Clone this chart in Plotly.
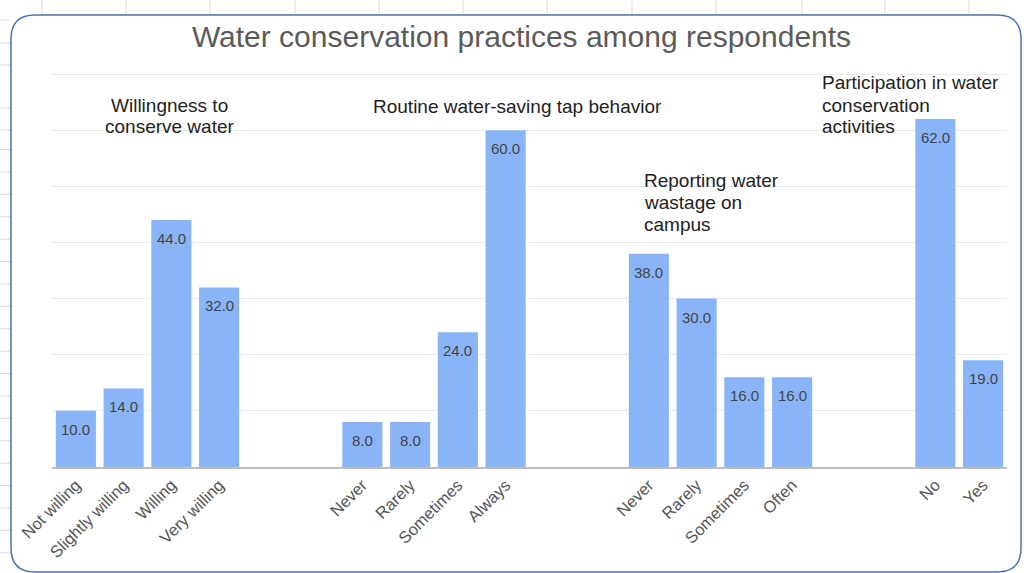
import plotly.graph_objects as go

# ---- data ----
group_titles = [
    ["Willingness to", "conserve water"],
    ["Routine water-saving tap behavior"],
    ["Reporting water", "wastage on", "campus"],
    ["Participation in water", "conservation", "activities"],
]
willing_cats = ["Not willing", "Slightly willing", "Willing", "Very willing"]
willing_vals = [10, 14, 44, 32]
tap_cats = ["Never", "Rarely", "Sometimes", "Always"]
tap_vals = [8, 8, 24, 60]
report_cats = ["Never", "Rarely", "Sometimes", "Often"]
report_vals = [38, 30, 16, 16]
partic_cats = ["No", "Yes"]
partic_vals = [62, 19]

groups = [(willing_cats, willing_vals), (tap_cats, tap_vals),
          (report_cats, report_vals), (partic_cats, partic_vals)]

# ---- layout geometry (pixels) ----
W, H = 1024, 573
YMAX = 70.2
ML, MR, MT, MB = 52, 17, 73, 106
PW, PH = W - ML - MR, H - MT - MB


def px(x):
    return (x - ML) / PW


def py(y):
    return (H - MB - y) / PH


GAP = 2
xs, ticktext, vals = [], [], []
pos = 0
for cats, v in groups:
    for c, val in zip(cats, v):
        xs.append(pos)
        ticktext.append(c)
        vals.append(val)
        pos += 1
    pos += GAP
n_slots = pos - GAP

FONT = "Liberation Sans, Arial"

fig = go.Figure()
fig.add_trace(go.Bar(
    x=xs, y=vals, width=0.84,
    marker=dict(color="#8ab4f8", line=dict(width=0)),
    hoverinfo="skip", showlegend=False,
))

annotations = []
for x, v in zip(xs, vals):
    annotations.append(dict(
        x=x, y=v, xref="x", yref="y", text=f"{v:.1f}", showarrow=False,
        yanchor="top", yshift=-8,
        font=dict(family=FONT, size=15, color="#444444"),
    ))

# group titles: (anchor x px, first line centre y px, xanchor)
title_font = dict(family=FONT, size=19, color="#222222")
title_pos = [(169.5, 105, "center"), (517, 106, "center"),
             (642, 180, "left"), (820, 83, "left")]
LINE = 22
for lines, (ax, ay, xa) in zip(group_titles, title_pos):
    for i, line in enumerate(lines):
        annotations.append(dict(
            x=px(ax), y=py(ay + i * LINE), xref="paper", yref="paper", text=line,
            showarrow=False, xanchor=xa, yanchor="middle", align=xa,
            font=title_font))

# ---- spreadsheet background lines + rounded chart border ----
shapes = []
grid_col = "#d9d9d9"
for gx in [42, 126, 210, 295, 379, 463, 547, 632, 716, 802, 885, 969]:
    shapes.append(dict(type="line", xref="paper", yref="paper",
                       x0=px(gx), x1=px(gx), y0=py(0), y1=py(15),
                       line=dict(color=grid_col, width=1), layer="below"))
row_ys = [20, 43, 65, 108, 130] + [396 + 22.4 * j for j in range(-11, 8)]
for gy in row_ys:
    shapes.append(dict(type="line", xref="paper", yref="paper",
                       x0=px(0), x1=px(10), y0=py(gy), y1=py(gy),
                       line=dict(color=grid_col, width=1), layer="below"))

L, T, R, B, r = 11, 15, 1021, 572, 24
pts = lambda x, y: f"{px(x):.5f},{py(y):.5f}"
path = (f"M {pts(L + r, T)} L {pts(R - r, T)} Q {pts(R, T)} {pts(R, T + r)} "
        f"L {pts(R, B - r)} Q {pts(R, B)} {pts(R - r, B)} "
        f"L {pts(L + r, B)} Q {pts(L, B)} {pts(L, B - r)} "
        f"L {pts(L, T + r)} Q {pts(L, T)} {pts(L + r, T)} Z")
shapes.append(dict(type="path", xref="paper", yref="paper", path=path,
                   line=dict(color="#4a72b8", width=1.5), layer="above"))

fig.update_layout(
    width=W, height=H,
    margin=dict(l=ML, r=MR, t=MT, b=MB, pad=0),
    paper_bgcolor="white", plot_bgcolor="white",
    title=dict(text="Water conservation practices among respondents",
               x=521.5 / W, xref="container", xanchor="center",
               y=1 - 36 / H, yanchor="middle",
               font=dict(family=FONT, size=30, color="#5b5b5b")),
    xaxis=dict(range=[-0.5, n_slots - 0.5], tickmode="array", tickvals=xs,
               ticktext=ticktext, tickangle=-45, showgrid=False, zeroline=False,
               showline=True, linecolor="#bdbdbd", linewidth=2, ticks="",
               tickfont=dict(family=FONT, size=16.5, color="#555555")),
    yaxis=dict(range=[0, YMAX], tickmode="array", tickvals=[10, 20, 30, 40, 50, 60, 70],
               showticklabels=False, showgrid=True,
               gridcolor="#ebebeb", gridwidth=1, zeroline=False, showline=False),
    annotations=annotations, shapes=shapes, bargap=0.16,
)

fig.write_html("out.html")
